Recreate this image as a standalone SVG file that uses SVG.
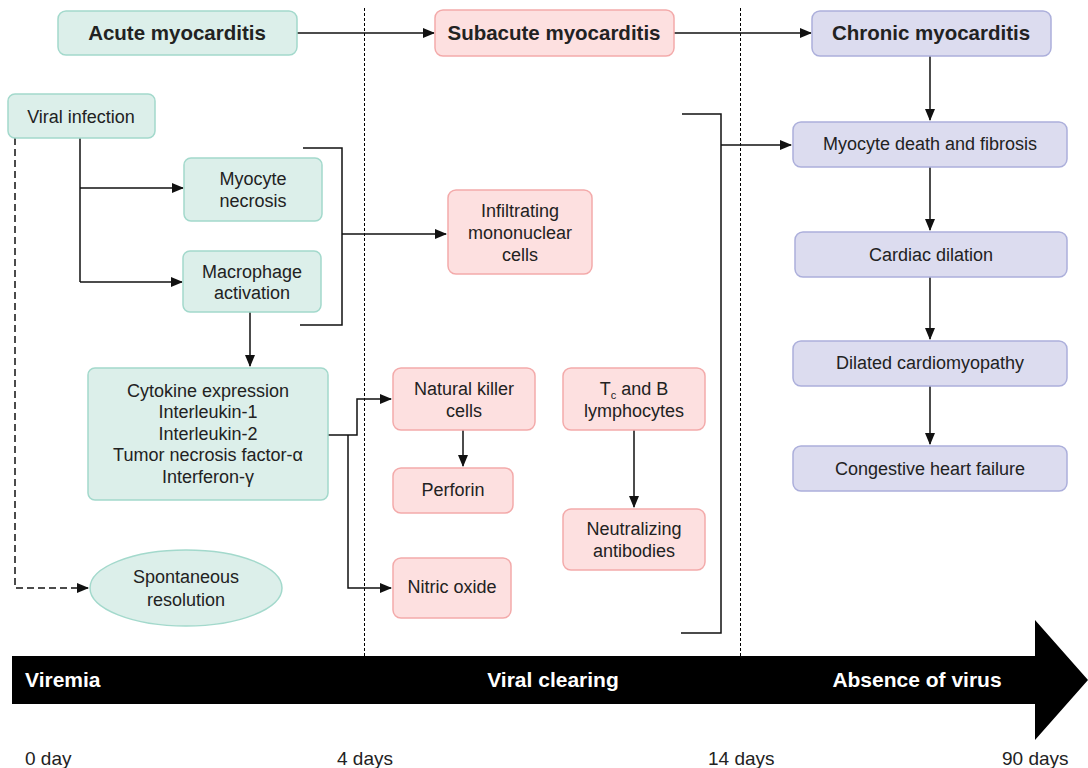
<svg xmlns="http://www.w3.org/2000/svg" width="1088" height="768" viewBox="0 0 1088 768">
<defs>
<marker id="ah" markerWidth="12" markerHeight="10" refX="11" refY="5" orient="auto" markerUnits="userSpaceOnUse"><path d="M0,0 L12,5 L0,10 Z" fill="#111"/></marker>
<style>
.g{fill:#dcefea;stroke:#a3d9cc;stroke-width:1.5}
.p{fill:#fde0e0;stroke:#f3aaaa;stroke-width:1.5}
.b{fill:#dcdcef;stroke:#acafdb;stroke-width:1.5}
.t{font-family:"Liberation Sans",Arial,sans-serif;font-size:18px;fill:#222;text-anchor:middle}
.h{font-family:"Liberation Sans",Arial,sans-serif;font-size:20.5px;font-weight:bold;fill:#222;text-anchor:middle}
.w{font-family:"Liberation Sans",Arial,sans-serif;font-size:21px;font-weight:bold;fill:#fff}
.d{font-family:"Liberation Sans",Arial,sans-serif;font-size:19px;fill:#222}
.c{fill:none;stroke:#111;stroke-width:1.5}
.v{fill:none;stroke:#000;stroke-width:1;stroke-dasharray:3,2}
</style>
</defs>
<rect width="1088" height="768" fill="#fff"/>
<g id="timeline">
<line class="v" x1="364.5" y1="8" x2="364.5" y2="656"/>
<line class="v" x1="740.5" y1="8" x2="740.5" y2="656"/>
<path d="M12,656 L1035,656 L1035,620 L1088,680 L1035,740 L1035,704 L12,704 Z" fill="#000"/>
<text class="w" x="25" y="687">Viremia</text>
<text class="w" x="553" y="687" text-anchor="middle">Viral clearing</text>
<text class="w" x="917" y="687" text-anchor="middle">Absence of virus</text>
<text class="d" x="25" y="765">0 day</text>
<text class="d" x="337" y="765">4 days</text>
<text class="d" x="708" y="765">14 days</text>
<text class="d" x="1002" y="765">90 days</text>
</g>
<g id="connectors">
<line class="c" x1="297" y1="33" x2="434" y2="33" marker-end="url(#ah)"/>
<line class="c" x1="674" y1="33" x2="811" y2="33" marker-end="url(#ah)"/>
<path class="c" d="M80,138 V282"/>
<line class="c" x1="80" y1="188" x2="183" y2="188" marker-end="url(#ah)"/>
<line class="c" x1="80" y1="282" x2="182" y2="282" marker-end="url(#ah)"/>
<path class="c" d="M15,138 V588 H88" stroke-dasharray="7,4" marker-end="url(#ah)"/>
<path class="c" d="M303,148 H342 V325 H300"/>
<line class="c" x1="342" y1="234" x2="446" y2="234" marker-end="url(#ah)"/>
<line class="c" x1="250" y1="312" x2="250" y2="366" marker-end="url(#ah)"/>
<path class="c" d="M328,435 H357 V399 H391" marker-end="url(#ah)"/>
<path class="c" d="M348,435 V588 H391" marker-end="url(#ah)"/>
<line class="c" x1="463" y1="430" x2="463" y2="466" marker-end="url(#ah)"/>
<line class="c" x1="634" y1="430" x2="634" y2="507" marker-end="url(#ah)"/>
<path class="c" d="M682,114 H721 V633 H681"/>
<line class="c" x1="721" y1="145" x2="791" y2="145" marker-end="url(#ah)"/>
<line class="c" x1="930" y1="56" x2="930" y2="120" marker-end="url(#ah)"/>
<line class="c" x1="930" y1="167" x2="930" y2="230" marker-end="url(#ah)"/>
<line class="c" x1="930" y1="277" x2="930" y2="339" marker-end="url(#ah)"/>
<line class="c" x1="930" y1="386" x2="930" y2="444" marker-end="url(#ah)"/>
</g>
<g id="acute"><rect class="g" x="58" y="11" width="239" height="44" rx="8"/><text class="h" x="177" y="40">Acute myocarditis</text></g>
<g id="subacute"><rect class="p" x="435" y="10" width="239" height="46" rx="8"/><text class="h" x="554" y="40">Subacute myocarditis</text></g>
<g id="chronic"><rect class="b" x="812" y="11" width="239" height="45" rx="8"/><text class="h" x="931" y="40">Chronic myocarditis</text></g>
<g id="viral-infection"><rect class="g" x="8" y="94" width="147" height="44" rx="7"/><text class="t" x="81" y="123">Viral infection</text></g>
<g id="myocyte-necrosis"><rect class="g" x="184" y="158" width="138" height="63" rx="7"/><text class="t" x="253" y="185">Myocyte</text><text class="t" x="253" y="207">necrosis</text></g>
<g id="macrophage"><rect class="g" x="183" y="251" width="138" height="61" rx="7"/><text class="t" x="252" y="278">Macrophage</text><text class="t" x="252" y="299">activation</text></g>
<g id="cytokine"><rect class="g" x="88" y="368" width="240" height="132" rx="7"/>
<text class="t" x="208" y="397">Cytokine expression</text><text class="t" x="208" y="418">Interleukin-1</text><text class="t" x="208" y="440">Interleukin-2</text><text class="t" x="208" y="461">Tumor necrosis factor-α</text><text class="t" x="208" y="483">Interferon-γ</text></g>
<g id="spontaneous"><ellipse class="g" cx="186" cy="588" rx="96" ry="38"/><text class="t" x="186" y="583">Spontaneous</text><text class="t" x="186" y="606">resolution</text></g>
<g id="infiltrating"><rect class="p" x="448" y="190" width="144" height="84" rx="8"/><text class="t" x="520" y="217">Infiltrating</text><text class="t" x="520" y="239">mononuclear</text><text class="t" x="520" y="261">cells</text></g>
<g id="nk"><rect class="p" x="393" y="368" width="142" height="62" rx="8"/><text class="t" x="464" y="395">Natural killer</text><text class="t" x="464" y="417">cells</text></g>
<g id="perforin"><rect class="p" x="393" y="468" width="120" height="45" rx="8"/><text class="t" x="453" y="496">Perforin</text></g>
<g id="nitric"><rect class="p" x="393" y="558" width="118" height="60" rx="8"/><text class="t" x="452" y="593">Nitric oxide</text></g>
<g id="tcb"><rect class="p" x="563" y="368" width="142" height="62" rx="8"/><text class="t" x="634" y="395">T<tspan font-size="11" dy="4">c</tspan><tspan dy="-4"> and B</tspan></text><text class="t" x="634" y="417">lymphocytes</text></g>
<g id="neutralizing"><rect class="p" x="563" y="509" width="142" height="61" rx="8"/><text class="t" x="634" y="535">Neutralizing</text><text class="t" x="634" y="557">antibodies</text></g>
<g id="myocyte-death"><rect class="b" x="793" y="122" width="274" height="45" rx="8"/><text class="t" x="930" y="150">Myocyte death and fibrosis</text></g>
<g id="cardiac-dilation"><rect class="b" x="795" y="232" width="272" height="45" rx="8"/><text class="t" x="931" y="261">Cardiac dilation</text></g>
<g id="dcm"><rect class="b" x="793" y="341" width="274" height="45" rx="8"/><text class="t" x="930" y="369">Dilated cardiomyopathy</text></g>
<g id="chf"><rect class="b" x="793" y="446" width="274" height="45" rx="8"/><text class="t" x="930" y="475">Congestive heart failure</text></g>
</svg>
